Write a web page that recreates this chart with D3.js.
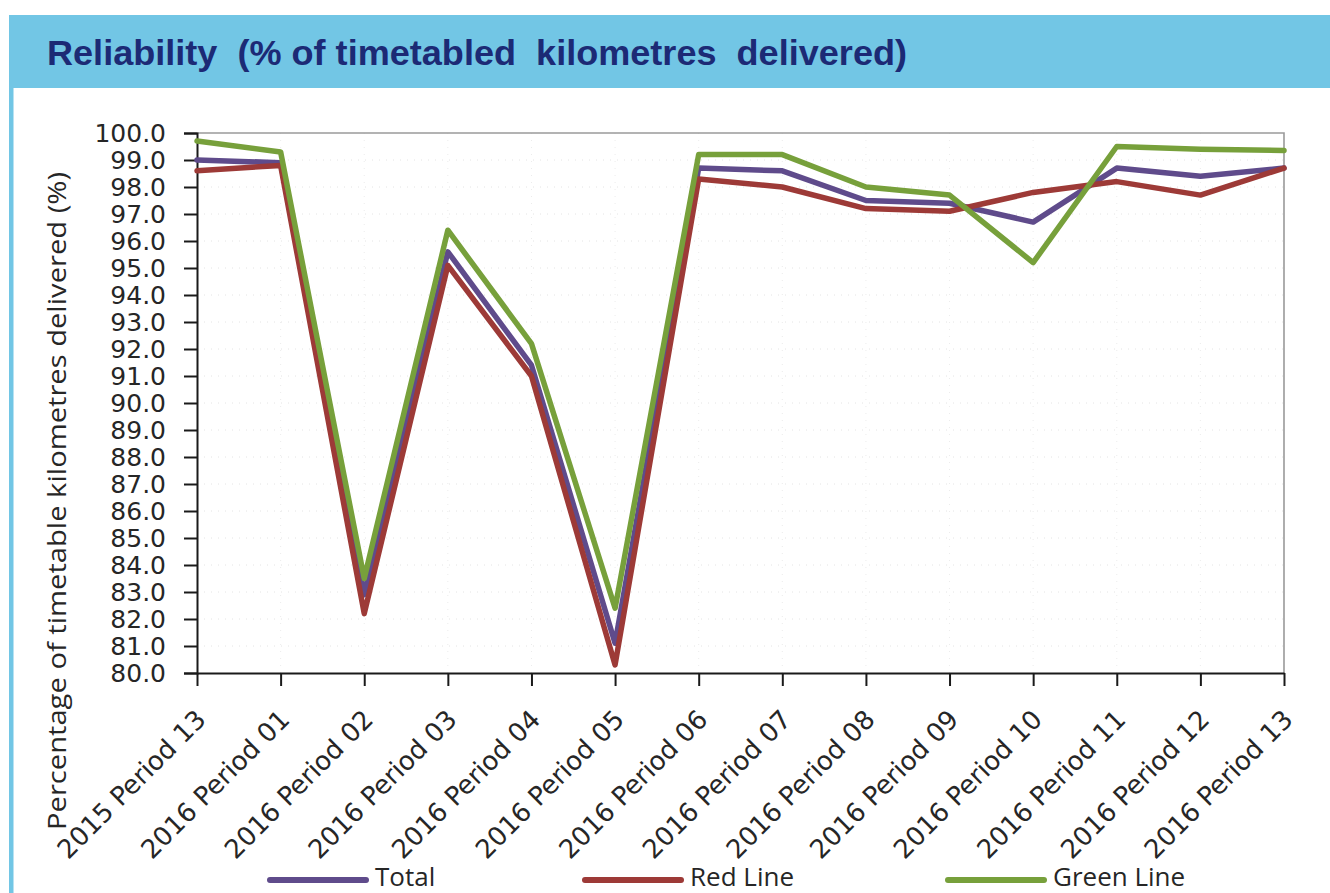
<!DOCTYPE html>
<html>
<head>
<meta charset="utf-8">
<script src="https://cdn.jsdelivr.net/npm/d3@7"></script>
<style>
  html, body { margin: 0; padding: 0; background: #ffffff; }
  svg { display: block; }
</style>
</head>
<body>
<div id="chart"></div>
<script>
// Données
const categories = [
  "2015 Period 13", "2016 Period 01", "2016 Period 02", "2016 Period 03",
  "2016 Period 04", "2016 Period 05", "2016 Period 06", "2016 Period 07",
  "2016 Period 08", "2016 Period 09", "2016 Period 10", "2016 Period 11",
  "2016 Period 12", "2016 Period 13"
];
const totalValues = [99.0, 98.9, 82.9, 95.6, 91.4, 81.1, 98.7, 98.6, 97.5, 97.4, 96.7, 98.7, 98.4, 98.7];
const redLineValues = [98.6, 98.8, 82.2, 95.1, 91.0, 80.3, 98.3, 98.0, 97.2, 97.1, 97.8, 98.2, 97.7, 98.7];
const greenLineValues = [99.7, 99.3, 83.5, 96.4, 92.2, 82.4, 99.2, 99.2, 98.0, 97.7, 95.2, 99.5, 99.4, 99.35];
const seriesNames = ["Total", "Red Line", "Green Line"];
const yTickValues = [80, 81, 82, 83, 84, 85, 86, 87, 88, 89, 90, 91, 92, 93, 94, 95, 96, 97, 98, 99, 100];

const graphCfg = {
  target: "#chart",
  title: "Reliability  (% of timetabled  kilometres  delivered)",
  yLabel: "Percentage of timetable kilometres delivered (%)",
  width: 1330,
  height: 893,
  plot: { left: 197, right: 1284, top: 133, bottom: 673 },
  colors: ["#5f4b8b", "#9d3a37", "#77a03b"],
};

const series = seriesNames.map((name, i) => ({
  name: name,
  color: graphCfg.colors[i],
  values: [totalValues, redLineValues, greenLineValues][i],
}));

//---------------------------------------------------------------------------------------

// Création du canevas SVG
const svg = d3
  .select(graphCfg.target)
  .append("svg")
  .attr("width", graphCfg.width)
  .attr("height", graphCfg.height)
  .attr("viewBox", [0, 0, graphCfg.width, graphCfg.height]);

// cadre bleu : bandeau titre + liseré gauche
svg.append("rect")
  .attr("x", 9).attr("y", 15)
  .attr("width", graphCfg.width - 9).attr("height", 73)
  .attr("fill", "#72c6e5");

svg.append("rect")
  .attr("x", 9).attr("y", 88)
  .attr("width", 4.5).attr("height", graphCfg.height - 88)
  .attr("fill", "#72c6e5");

// titre
svg.append("text")
  .attr("x", 47)
  .attr("y", 65)
  .attr("fill", "#1c2a75")
  .attr("textLength", 860)
  .attr("lengthAdjust", "spacingAndGlyphs")
  .style("font-family", "'Liberation Sans', Arial, sans-serif")
  .style("font-weight", "bold")
  .style("font-size", "35px")
  .style("white-space", "pre")
  .text(graphCfg.title);

//---------------------------------------------------------------------------------------

// Échelles
const p = graphCfg.plot;

const scaleX = d3
  .scalePoint()
  .domain(categories)
  .range([p.left, p.right]);

const scaleY = d3
  .scaleLinear()
  .domain([80, 100])
  .range([p.bottom, p.top]);

//---------------------------------------------------------------------------------------

// Grille très légère en pointillés
const grid = svg.append("g");

grid.selectAll(".hgrid")
  .data(yTickValues.slice(1, -1))
  .join("line")
  .attr("x1", p.left).attr("x2", p.right)
  .attr("y1", (d) => scaleY(d)).attr("y2", (d) => scaleY(d))
  .attr("stroke", "#e4e4e4")
  .attr("stroke-width", 1)
  .attr("stroke-dasharray", "1,6");

grid.selectAll(".vgrid")
  .data(categories.slice(1, -1))
  .join("line")
  .attr("x1", (d) => scaleX(d)).attr("x2", (d) => scaleX(d))
  .attr("y1", p.top).attr("y2", p.bottom)
  .attr("stroke", "#ececec")
  .attr("stroke-width", 1)
  .attr("stroke-dasharray", "1,6");

// bordure haute et droite
svg.append("path")
  .attr("d", `M${p.left},${p.top}H${p.right}V${p.bottom}`)
  .attr("fill", "none")
  .attr("stroke", "#9a9a9a")
  .attr("stroke-width", 1.6);

//---------------------------------------------------------------------------------------

// Axes
const yAxis = (g) =>
  g
    .attr("transform", `translate(${p.left}, 0)`)
    .call(
      d3.axisLeft(scaleY)
        .tickValues(yTickValues)
        .tickSize(13)
        .tickPadding(18)
        .tickFormat((d) => d.toFixed(1))
    )
    .call((g) => g.selectAll("line, path").attr("stroke", "#1a1a1a").attr("stroke-width", 2))
    .call((g) =>
      g.selectAll("text")
        .attr("fill", "#262626")
        .style("font-family", "'DejaVu Sans', sans-serif")
        .style("font-size", "25px")
    );

const xAxis = (g) =>
  g
    .attr("transform", `translate(0, ${p.bottom})`)
    .call(d3.axisBottom(scaleX).tickSize(13).tickSizeOuter(0))
    .call((g) => g.selectAll("line, path").attr("stroke", "#1a1a1a").attr("stroke-width", 2))
    .call((g) =>
      g.selectAll("text")
        .attr("fill", "#262626")
        .attr("text-anchor", "end")
        .attr("transform", "translate(10, 48) rotate(-45)")
        .attr("y", 0)
        .attr("dy", 0)
        .style("font-family", "'DejaVu Sans', sans-serif")
        .style("font-size", "26px")
    );

svg.append("g").call(xAxis);
svg.append("g").call(yAxis);

// titre de l'axe Y
svg.append("text")
  .attr("transform", "translate(66, 501) rotate(-90)")
  .attr("text-anchor", "middle")
  .attr("fill", "#262626")
  .attr("textLength", 658)
  .attr("lengthAdjust", "spacingAndGlyphs")
  .style("font-family", "'Open Sans', sans-serif")
  .style("font-size", "26px")
  .text(graphCfg.yLabel);

//---------------------------------------------------------------------------------------

// Courbes
const line = d3
  .line()
  .x((d, i) => scaleX(categories[i]))
  .y((d) => scaleY(d));

svg.append("g")
  .selectAll("path")
  .data(series)
  .join("path")
  .attr("d", (d) => line(d.values))
  .attr("fill", "none")
  .attr("stroke", (d) => d.color)
  .attr("stroke-width", 5.5)
  .attr("stroke-linejoin", "round")
  .attr("stroke-linecap", "round");

//---------------------------------------------------------------------------------------

// Légende
const legendX = [270, 585, 948];

const legend = svg
  .selectAll(".legend")
  .data(series)
  .join("g")
  .attr("class", "legend")
  .attr("transform", (d, i) => `translate(${legendX[i]}, 880)`);

legend.append("line")
  .attr("x1", 0).attr("x2", 96)
  .attr("stroke", (d) => d.color)
  .attr("stroke-width", 6)
  .attr("stroke-linecap", "round");

legend.append("text")
  .attr("x", 105)
  .attr("y", 6)
  .attr("fill", "#262626")
  .style("font-family", "'Open Sans', sans-serif")
  .style("font-size", "26px")
  .text((d) => d.name);
</script>
</body>
</html>
